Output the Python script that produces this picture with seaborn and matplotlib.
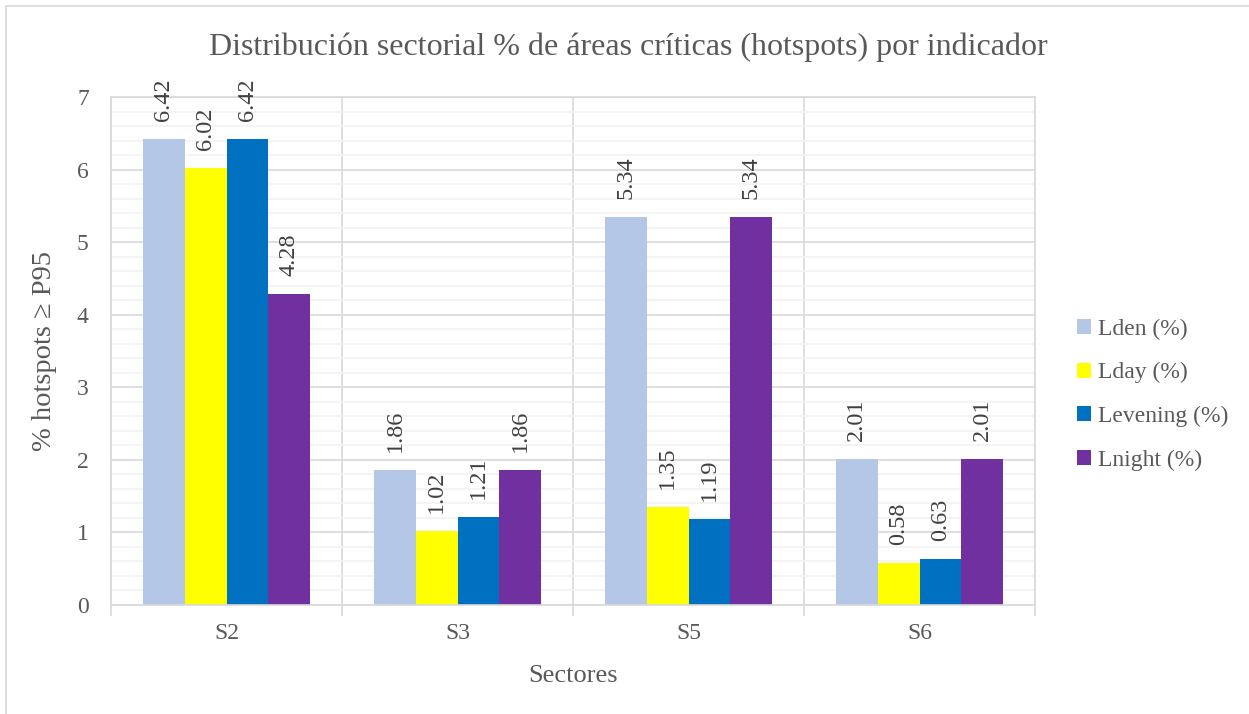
import matplotlib
matplotlib.use("Agg")
import matplotlib.pyplot as plt
from matplotlib.patches import Rectangle
from matplotlib.ticker import MultipleLocator, FixedLocator
import seaborn as sns
import pandas as pd

sectors = ["S2", "S3", "S5", "S6"]
indicators = ["Lden (%)", "Lday (%)", "Levening (%)", "Lnight (%)"]
lden = [6.42, 1.86, 5.34, 2.01]
lday = [6.02, 1.02, 1.35, 0.58]
levening = [6.42, 1.21, 1.19, 0.63]
lnight = [4.28, 1.86, 5.34, 2.01]
colors = ["#B4C7E7", "#FFFF00", "#0070C0", "#7030A0"]

rows = []
for name, vals in zip(indicators, [lden, lday, levening, lnight]):
    for s, v in zip(sectors, vals):
        rows.append({"Sector": s, "Indicador": name, "Valor": v})
df = pd.DataFrame(rows)

sns.set_theme(style="white")
serif = ["Liberation Serif", "DejaVu Serif"]
plt.rcParams["font.family"] = serif

fig = plt.figure(figsize=(12.49, 7.14), dpi=100)
ax = fig.add_axes([111 / 1249, 1 - 605 / 714, 924 / 1249, 508 / 714])

sns.barplot(data=df, x="Sector", y="Valor", hue="Indicador", order=sectors,
            hue_order=indicators, palette=colors, width=0.723, saturation=1,
            edgecolor="none", linewidth=0, ax=ax)

for cont in ax.containers:
    ax.bar_label(cont, labels=[f"{v:.2f}" for v in cont.datavalues],
                 rotation=90, padding=13, fontsize=17.5, color="#404040",
                 family=serif, clip_on=False)

ax.set_ylim(0, 7)
ax.set_xlim(-0.5, 3.5)
ax.yaxis.set_major_locator(MultipleLocator(1))
ax.yaxis.set_minor_locator(MultipleLocator(0.2))
ax.xaxis.set_minor_locator(FixedLocator([-0.5, 0.5, 1.5, 2.5, 3.5]))
ax.grid(which="major", axis="y", color="#D9D9D9", linewidth=1.2)
ax.grid(which="minor", axis="y", color="#F2F2F2", linewidth=1.2)
ax.grid(which="minor", axis="x", color="#D9D9D9", linewidth=1.2)
ax.set_axisbelow(True)
for sp in ax.spines.values():
    sp.set_color("#D9D9D9")
    sp.set_linewidth(1.2)

ax.tick_params(axis="x", which="major", length=0, pad=13, labelsize=17, labelcolor="#595959")
ax.tick_params(axis="x", which="minor", length=8, width=1.2, color="#D9D9D9", bottom=True)
ax.tick_params(axis="y", which="both", length=0, pad=16, labelsize=17, labelcolor="#595959")

ax.set_xlabel("Sectores", fontsize=19, color="#595959", labelpad=15)
ax.set_ylabel("% hotspots ≥ P95", fontsize=20.5, color="#595959", labelpad=14)
fig.text(0.503, 1 - 47 / 714, "Distribución sectorial % de áreas críticas (hotspots) por indicador",
         fontsize=23, color="#595959", ha="center", va="center")

leg = ax.legend(loc="center left", bbox_to_anchor=(1.035, 0.414), frameon=False,
                fontsize=17, handlelength=0.6, handleheight=0.6, handletextpad=0.3,
                labelspacing=0.95, borderaxespad=0)
for t in leg.get_texts():
    t.set_color("#595959")

fig.patches.append(Rectangle((6 / 1249, -0.05), 1.1, 1 - 6 / 714 + 0.05,
                             transform=fig.transFigure, fill=False,
                             edgecolor="#D9D9D9", linewidth=1.2))

fig.savefig("out.png", dpi=100)
